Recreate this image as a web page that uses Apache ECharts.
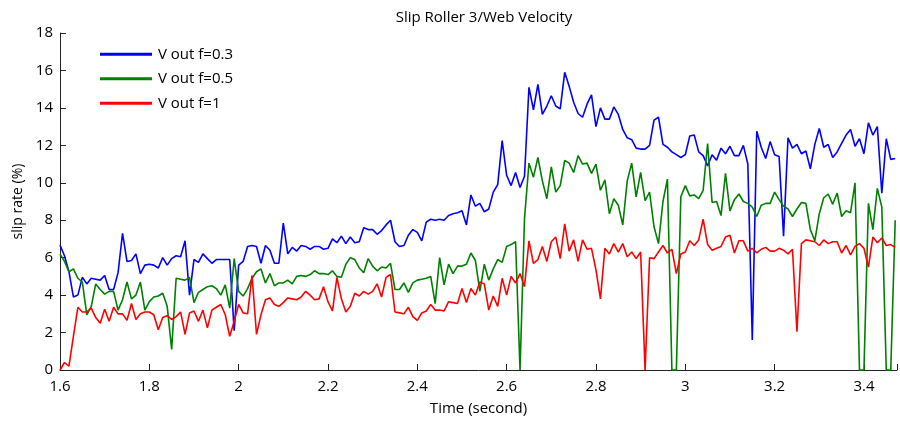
<!DOCTYPE html>
<html>
<head>
<meta charset="utf-8">
<script src="https://cdn.jsdelivr.net/npm/echarts@6/dist/echarts.min.js"></script>
<style>html,body{margin:0;padding:0;background:#fff}#c{width:900px;height:421px}</style>
</head>
<body>
<div id="c"></div>
<script>
// sampling grid of the recorded signal (seconds)
const timeStart = 1.6;
const timeStep = 0.01;

const seriesNames = ['V out f=0.3', 'V out f=0.5', 'V out f=1'];
const xTicks = [1.6, 1.8, 2, 2.2, 2.4, 2.6, 2.8, 3, 3.2, 3.4];
const yTicks = [0, 2, 4, 6, 8, 10, 12, 14, 16, 18];

const vOut03 = [
6.67,6.1,5.25,3.9,4.0,4.95,4.6,4.9,4.85,4.8,
5.05,4.3,4.3,5.2,7.3,5.8,5.85,6.2,5.15,5.6,
5.65,5.6,5.45,6.0,5.6,5.95,6.1,6.05,6.9,4.0,
5.9,5.75,6.2,5.95,5.7,5.9,5.9,5.9,5.9,2.1,
5.6,5.8,6.6,6.65,6.6,5.7,6.65,6.4,5.7,5.7,
7.85,6.2,6.55,6.35,6.65,6.6,6.45,6.6,6.6,6.45,
6.5,7.0,6.8,7.15,6.75,7.1,6.8,6.85,7.6,7.5,
7.5,7.25,7.45,7.75,8.0,6.85,6.6,6.65,7.2,7.5,
7.35,6.9,7.9,8.05,8.0,8.05,8.0,8.25,8.35,8.4,
8.5,7.75,9.35,8.75,8.9,8.45,8.6,9.5,9.9,12.25,
10.4,9.85,10.55,9.75,10.35,15.1,13.9,15.25,13.65,14.1,
14.65,14.1,13.95,15.9,15.15,14.3,13.7,13.5,14.2,14.7,
13.0,14.0,13.4,13.4,14.05,13.65,12.85,12.4,12.3,11.85,
11.8,11.8,12.0,13.35,13.5,12.05,11.9,11.65,11.5,11.35,
11.5,12.5,12.55,11.65,11.45,10.9,11.5,11.2,11.85,11.55,
11.95,11.45,11.45,12.0,11.0,1.6,12.75,11.9,11.3,12.2,
11.5,11.4,7.15,12.4,11.85,12.05,11.55,11.7,10.75,12.05,
12.9,11.9,12.05,11.35,11.65,12.1,12.55,12.85,11.95,12.35,
11.55,13.2,12.55,13.0,9.45,12.35,11.25,11.3
];

const vOut05 = [
6.2,5.8,5.25,5.4,4.9,4.7,2.95,3.4,4.6,4.3,
4.05,4.2,4.2,3.2,3.75,4.7,3.8,4.0,4.7,3.2,
3.65,3.9,3.95,4.1,3.4,1.1,4.9,4.85,4.8,4.95,
3.6,4.15,4.3,4.45,4.5,4.35,4.0,4.55,3.3,5.95,
4.2,3.95,4.35,4.9,5.25,5.4,4.65,5.15,4.5,4.65,
4.65,4.8,4.6,5.0,5.05,5.0,5.1,5.3,5.15,5.15,
5.1,5.3,5.0,4.95,5.65,6.0,5.9,5.45,5.2,5.95,
5.55,5.3,5.5,5.45,5.7,4.3,4.3,4.65,4.15,4.65,
4.8,4.85,4.9,5.0,3.55,6.0,4.55,5.65,5.15,5.55,
5.55,5.65,6.25,5.85,4.2,5.65,4.8,5.4,5.9,5.75,
6.6,6.7,6.85,0,8.1,11.05,10.3,11.35,10.1,9.15,
10.85,9.5,9.85,11.2,11.05,10.55,11.45,11.0,11.05,10.5,
11.0,9.6,10.15,8.35,9.15,8.8,7.75,10.1,11.05,9.25,
10.55,9.05,9.5,7.65,6.75,9.0,10.2,0,0,9.25,
9.85,9.3,9.35,9.15,9.6,12.1,8.95,9.0,8.25,10.5,
8.5,9.1,9.4,9.0,8.9,8.7,8.2,8.8,8.9,8.9,
9.5,9.1,8.75,8.6,8.2,8.6,8.95,8.9,7.5,6.9,
8.35,9.2,9.4,8.85,9.45,8.2,8.5,8.4,10.0,0,
0,8.9,7.5,9.7,8.7,0,0,8.0
];

const vOut1 = [
0.0,0.4,0.2,1.8,3.35,3.1,3.1,3.3,2.8,2.5,
3.25,2.6,3.35,3.0,3.0,2.65,3.55,2.7,3.0,3.1,
3.1,2.95,2.15,2.8,2.9,2.7,2.85,3.1,1.9,3.05,
3.15,2.6,3.2,2.25,3.2,3.35,3.5,2.95,1.8,2.6,
3.5,3.05,3.0,5.05,1.9,2.95,3.75,3.85,3.5,3.4,
3.6,3.85,3.8,3.75,3.9,4.2,4.0,3.75,3.8,4.45,
3.65,3.15,4.95,3.8,3.1,3.4,4.1,3.95,4.2,4.05,
4.2,4.6,3.9,4.95,5.1,3.1,3.05,3.0,3.35,2.85,
2.65,3.05,3.15,3.5,3.2,3.2,3.15,3.65,3.6,3.55,
4.35,3.6,4.35,4.0,4.7,4.6,3.2,3.95,3.4,4.9,
4.0,5.0,4.65,5.15,4.45,6.9,5.7,5.9,6.6,5.8,
6.85,7.1,5.95,7.8,6.35,6.95,5.8,6.95,6.45,6.5,
5.35,3.8,6.5,6.2,6.75,6.3,6.75,6.05,6.3,5.95,
6.3,0,6.0,5.95,6.3,6.65,6.25,6.45,5.15,6.2,
6.3,6.9,6.65,6.95,8.05,6.7,6.4,6.5,6.6,7.1,
7.2,6.25,6.9,6.9,6.35,6.5,6.25,6.45,6.55,6.35,
6.35,6.5,6.4,6.2,6.45,2.05,6.75,6.95,6.9,6.85,
6.65,6.95,6.75,6.85,6.85,6.25,6.65,6.15,6.6,6.75,
6.5,5.5,7.1,6.8,7.05,6.65,6.7,6.55
];

const colors = ['#0000ff', '#008000', '#ff0000'];
const FONT = '"Open Sans", "Noto Sans", sans-serif';

function toPairs(vals) {
  return vals.map((v, i) => [+(timeStart + i * timeStep).toFixed(4), v]);
}

const chart = echarts.init(document.getElementById('c'), null, {renderer: 'canvas'});
const allSeries = [vOut03, vOut05, vOut1];

chart.setOption({
  animation: false,
  backgroundColor: '#ffffff',
  title: {
    text: 'Slip Roller 3/Web Velocity',
    left: 479, top: 5, textAlign: 'center',
    textStyle: {fontFamily: FONT, fontSize: 15, fontWeight: 'normal', color: '#000'}
  },
  legend: {
    orient: 'vertical', left: 95, top: 40,
    itemWidth: 52, itemHeight: 3, itemGap: 6,
    icon: 'rect',
    data: seriesNames,
    textStyle: {fontFamily: FONT, fontSize: 15, color: '#000', padding: [0, 0, 0, 1], lineHeight: 18.5}
  },
  grid: {left: 60, right: 0, top: 33, bottom: 47, containLabel: false},
  xAxis: {
    type: 'value', min: xTicks[0], max: 3.474, interval: 0.2,
    name: 'Time (second)', nameLocation: 'middle', nameGap: 31,
    nameTextStyle: {fontFamily: FONT, fontSize: 15, color: '#000'},
    axisLine: {onZero: false, lineStyle: {color: '#222', width: 1}},
    axisTick: {inside: true, length: 6, lineStyle: {color: '#222'}},
    axisLabel: {fontFamily: FONT, fontSize: 15, color: '#000', margin: 9,
      formatter: v => xTicks.some(t => Math.abs(t - v) < 1e-6) ? String(+v.toFixed(1)) : ''},
    splitLine: {show: false}
  },
  yAxis: {
    type: 'value', min: yTicks[0], max: yTicks[yTicks.length - 1], interval: 2,
    name: 'slip rate (%)', nameLocation: 'middle', nameGap: 35,
    nameTextStyle: {fontFamily: FONT, fontSize: 14, color: '#000'},
    axisLine: {show: true, lineStyle: {color: '#222', width: 1}},
    axisTick: {show: true, inside: true, length: 6, lineStyle: {color: '#222'}},
    axisLabel: {fontFamily: FONT, fontSize: 15, color: '#000', margin: 7},
    splitLine: {show: false}
  },
  series: allSeries.map((vals, i) => ({
    name: seriesNames[i],
    type: 'line',
    data: toPairs(vals),
    showSymbol: false,
    symbol: 'none',
    color: colors[i],
    lineStyle: {color: colors[i], width: 1.6},
    clip: false
  }))
});
</script>
</body>
</html>
